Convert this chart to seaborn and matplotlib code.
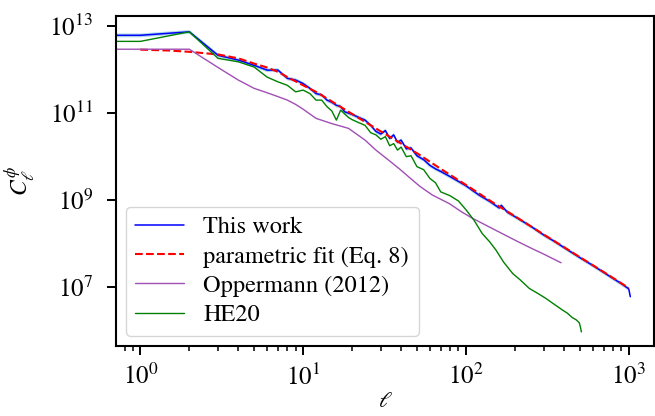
import numpy as np
import matplotlib
matplotlib.use('Agg')
import matplotlib.pyplot as plt
import seaborn as sns
from matplotlib.ticker import NullLocator

sns.set_style('ticks', {'axes.edgecolor': 'black', 'xtick.color': 'black',
                        'ytick.color': 'black', 'text.color': 'black',
                        'axes.labelcolor': 'black'})
plt.rcParams['font.family'] = ['STIXGeneral', 'DejaVu Serif']
plt.rcParams['mathtext.fontset'] = 'stix'

# this work (log10 C_ell), ell=0 is clipped by the log axis
ell_this = [0, 1, 2, 3, 4, 5, 6, 7, 8, 9, 10, 11, 12, 13, 14, 15, 16, 17, 18, 19,
            20, 22, 24, 26, 28, 30, 32, 34, 36, 38, 40, 43, 46, 50, 55, 60, 65, 70,
            80, 90, 100, 110, 120, 140, 160, 165, 180, 200, 250, 300, 350, 400,
            500, 600, 700, 800, 900, 1000, 1023]
logC_this = [12.79, 12.79, 12.87, 12.33, 12.22, 12.10, 11.99, 11.99, 11.80, 11.76,
             11.68, 11.57, 11.45, 11.42, 11.30, 11.25, 11.18, 11.15, 11.03, 11.00,
             10.97, 10.90, 10.84, 10.72, 10.58, 10.52, 10.60, 10.42, 10.50, 10.33,
             10.38, 10.18, 10.20, 10.02, 9.93, 9.80, 9.72, 9.66, 9.54, 9.43,
             9.33, 9.22, 9.12, 8.97, 8.82, 8.88, 8.72, 8.62, 8.40, 8.20, 8.05, 7.91,
             7.68, 7.50, 7.34, 7.20, 7.08, 6.96, 6.78]
band_frac = 0.10

# parametric fit (Eq. 8)
ell_fit = [1, 1.5, 2, 3, 4, 5, 6, 7, 8, 10, 12, 15, 20, 25, 30, 40, 50, 70, 100,
           150, 200, 300, 400, 500, 700, 1000]
logC_fit = [12.46, 12.44, 12.41, 12.35, 12.26, 12.14, 12.05, 11.95, 11.83, 11.64,
            11.49, 11.27, 10.98, 10.76, 10.58, 10.30, 10.08, 9.72, 9.35,
            8.92, 8.63, 8.21, 7.92, 7.69, 7.35, 6.98]

# Oppermann (2012)
ell_opp = [0, 1, 2, 3, 4, 5, 6, 7, 8, 9, 10, 12, 15, 19, 24, 28, 34, 39, 45, 52,
           62, 70, 79, 95, 110, 150, 200, 250, 300, 384]
logC_opp = [12.47, 12.47, 12.47, 12.05, 11.76, 11.57, 11.47, 11.38, 11.30, 11.20,
            11.09, 10.88, 10.76, 10.65, 10.38, 10.15, 9.90, 9.72, 9.52, 9.32,
            9.12, 9.02, 8.92, 8.72, 8.58, 8.32, 8.08, 7.90, 7.76, 7.56]

# HE20
ell_he = [0, 1, 2, 3, 4, 5, 6, 7, 8, 9, 10, 11, 12, 13, 14, 15, 16, 17, 18, 19,
          20, 22, 24, 26, 28, 30, 32, 34, 36, 38, 40, 43, 46, 50, 55, 60, 65, 70,
          80, 90, 100, 112, 126, 140, 153, 170, 194, 215, 245, 275, 310, 350,
          393, 420, 450, 475, 497, 505, 512]
logC_he = [12.65, 12.65, 12.87, 12.26, 12.18, 12.06, 11.83, 11.72, 11.64, 11.49,
           11.53, 11.45, 11.30, 11.30, 11.15, 11.05, 10.84, 11.07, 10.98, 10.90,
           10.85, 10.78, 10.72, 10.55, 10.50, 10.40, 10.46, 10.25, 10.30, 10.15,
           10.22, 10.00, 10.02, 9.77, 9.70, 9.50, 9.40, 9.19, 9.10, 8.98,
           8.78, 8.54, 8.23, 8.04, 7.85, 7.58, 7.31, 7.17, 6.97, 6.86, 6.74, 6.60,
           6.47, 6.40, 6.30, 6.25, 6.18, 6.08, 5.97]

C_this = np.power(10.0, logC_this)
C_fit = np.power(10.0, logC_fit)
C_opp = np.power(10.0, logC_opp)
C_he = np.power(10.0, logC_he)

fig, ax = plt.subplots(figsize=(6.55, 4.16), dpi=100)
fig.subplots_adjust(left=0.177, right=0.9985, top=0.962, bottom=0.169)

ax.fill_between(ell_this, C_this * (1 - band_frac), C_this * (1 + band_frac),
                color='lightblue', lw=0)
sns.lineplot(x=ell_this, y=C_this, color='blue', lw=1.1, label='This work',
             errorbar=None, ax=ax)
sns.lineplot(x=ell_fit, y=C_fit, color='red', lw=1.5, ls='--',
             label='parametric fit (Eq. 8)', errorbar=None, ax=ax)
sns.lineplot(x=ell_opp, y=C_opp, color='#a04fb4', lw=1.0,
             label='Oppermann (2012)', errorbar=None, ax=ax)
sns.lineplot(x=ell_he, y=C_he, color='green', lw=1.0, label='HE20',
             errorbar=None, ax=ax)

ax.set_xscale('log')
ax.set_yscale('log')
ax.set_xlim(0.708, 1430)
ax.set_ylim(4.5e5, 1.73e13)
ax.set_yticks([1e7, 1e9, 1e11, 1e13])
ax.yaxis.set_minor_locator(NullLocator())

for s in ax.spines.values():
    s.set_linewidth(1.5)
ax.tick_params(which='major', length=6.5, width=1.4, labelsize=18)
ax.tick_params(axis='x', which='major', pad=7)
ax.tick_params(axis='y', which='major', pad=10)
ax.tick_params(which='minor', length=3.3, width=1.1)

ax.set_xlabel(r'$\ell$', fontsize=16, labelpad=1)
ax.set_ylabel(r'$C_\ell^\phi$', fontsize=17, labelpad=9)
ax.legend(loc='lower left', fontsize=17.5, labelspacing=0.3,
          borderaxespad=0.4)

fig.savefig('out.png', dpi=100)
